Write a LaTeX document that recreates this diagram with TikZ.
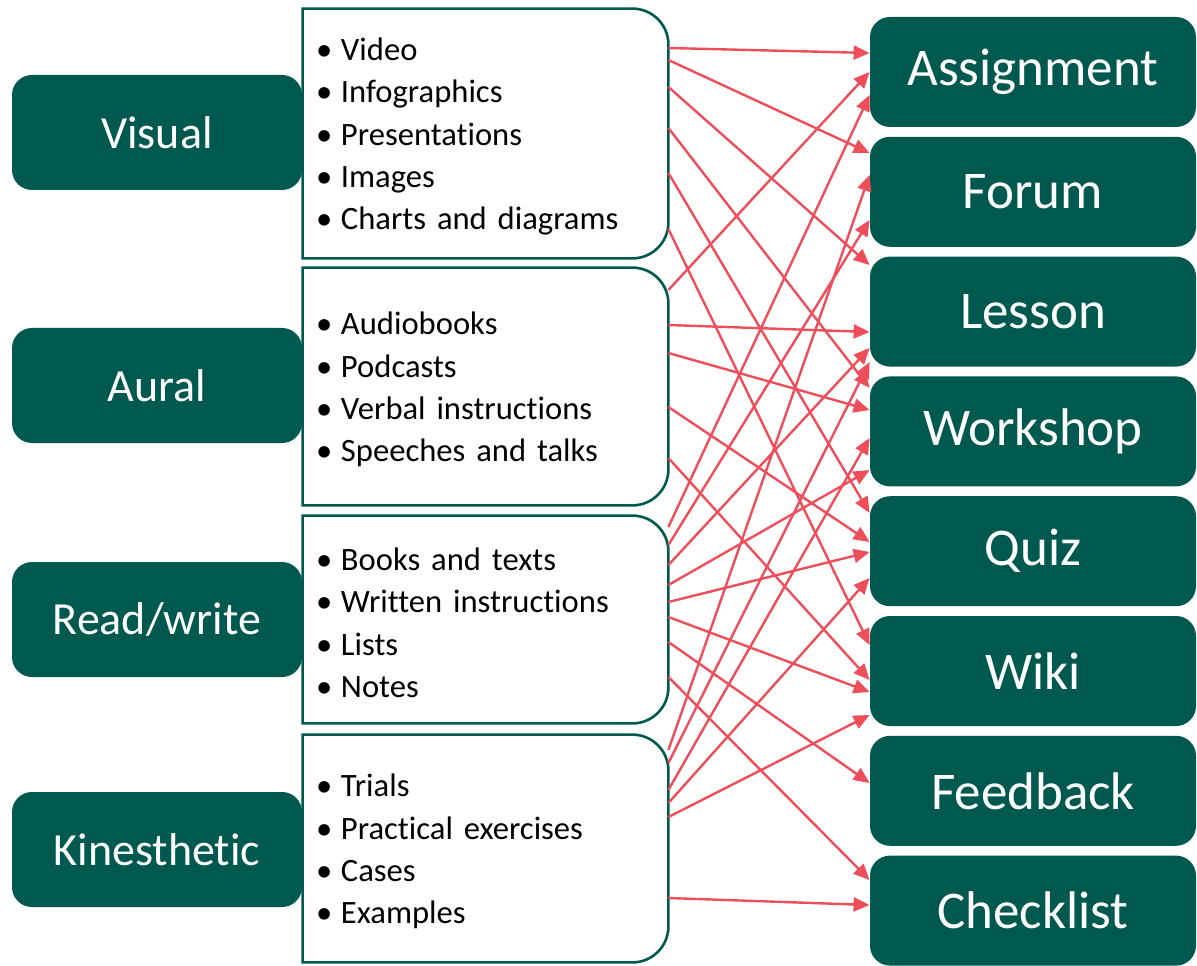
\documentclass[tikz,border=0pt]{standalone}
\usepackage{fontspec}
\setmainfont{Carlito}[Ligatures=NoCommon]
\usetikzlibrary{positioning}
\usetikzlibrary{arrows.meta}

\definecolor{moodlegreen}{HTML}{00594F}
\definecolor{linkred}{HTML}{EE4D5A}

\newcommand{\itm}[1]{\makebox[12.5pt][l]{\textbullet}#1}

\begin{document}
\begin{tikzpicture}[x=0.5pt,y=0.5pt,node distance=4.5pt,
	learnstyle/.style={fill=moodlegreen,text=white,rounded corners=10pt,inner sep=0pt,
		minimum width=145pt,minimum height=57.5pt,font=\fontsize{23}{27}\selectfont},
	activity/.style={fill=moodlegreen,text=white,rounded corners=10pt,inner sep=0pt,
		minimum width=163pt,minimum height=55pt,font=\fontsize{26.5}{30}\selectfont},
	listbox/.style={inner xsep=6.5pt,inner ysep=0pt,text width=169.5pt,align=left,
		text height=14.5pt,font=\fontsize{16.3}{21.15}\selectfont},
	listline/.style={draw=moodlegreen,line width=1.3pt},
	redarrow/.style={draw=linkred,line width=1.2pt,-{Triangle[length=8pt,width=7pt]}}]
	\useasboundingbox (0,0) rectangle (1197,965);
	
	% learning styles
	\node[learnstyle] (vis) at (157,832.5) {Visual};
	\node[learnstyle] (aur) at (157,579.5) {Aural};
	\node[learnstyle] (rw)  at (157,345.5) {Read/write};
	\node[learnstyle] (kin) at (157,115.5) {Kinesthetic};
	
	% materials
	\node[listbox,minimum height=124.5pt] (L1) at (485.5,831.5)
		{\itm{Video}\\\itm{Infographics}\\\itm{Presentations}\\\itm{Images}\\\itm{Charts and diagrams}};
	\node[listbox,minimum height=118.5pt] (L2) at (485.5,578.5)
		{\itm{Audiobooks}\\\itm{Podcasts}\\\itm{Verbal instructions}\\\itm{Speeches and talks}};
	\node[listbox,minimum height=103.5pt] (L3) at (485.5,345.5)
		{\itm{Books and texts}\\\itm{Written instructions}\\\itm{Lists}\\\itm{Notes}};
	\node[listbox,minimum height=113.5pt] (L4) at (485.5,116.5)
		{\itm{Trials}\\\itm{Practical exercises}\\\itm{Cases}\\\itm{Examples}};
	\foreach \b in {L1,L2,L3,L4}
		\draw[listline] (\b.north west) -- ([xshift=-18pt]\b.north east)
			arc[start angle=90,end angle=0,radius=18pt] -- ([yshift=18pt]\b.south east)
			arc[start angle=0,end angle=-90,radius=18pt] -- (\b.south west) -- cycle;
	
	% moodle activities
	\node[activity] (asg) at (1033,893) {Assignment};
	\node[activity] (frm) [below=of asg] {Forum};
	\node[activity] (les) [below=of frm] {Lesson};
	\node[activity] (wrk) [below=of les] {Workshop};
	\node[activity] (quz) [below=of wrk] {Quiz};
	\node[activity] (wik) [below=of quz] {Wiki};
	\node[activity] (fdb) [below=of wik] {Feedback};
	\node[activity] (chk) [below=of fdb] {Checklist};
	
	% material -> activity
	\foreach \s/\sy/\t/\ty in {L1/917/asg/912, L1/905/frm/812, L1/878/les/700,
			L1/837/wrk/577, L1/792/quz/452, L1/736/wik/320,
			L2/675/asg/893, L2/640/les/633, L2/612/wrk/555, L2/558/quz/423, L2/507/wik/285,
			L3/438/asg/870, L3/420/frm/745, L3/400/les/617, L3/380/wrk/495,
			L3/363/quz/413, L3/348/wik/273, L3/323/fdb/182, L3/288/chk/85,
			L4/215/frm/790, L4/202/les/603, L4/175/wrk/527, L4/162/quz/387,
			L4/148/wik/250, L4/67/chk/60}
		\draw[redarrow] (\s.east |- 0,\sy) -- (\t.west |- 0,\ty);
\end{tikzpicture}
\end{document}
